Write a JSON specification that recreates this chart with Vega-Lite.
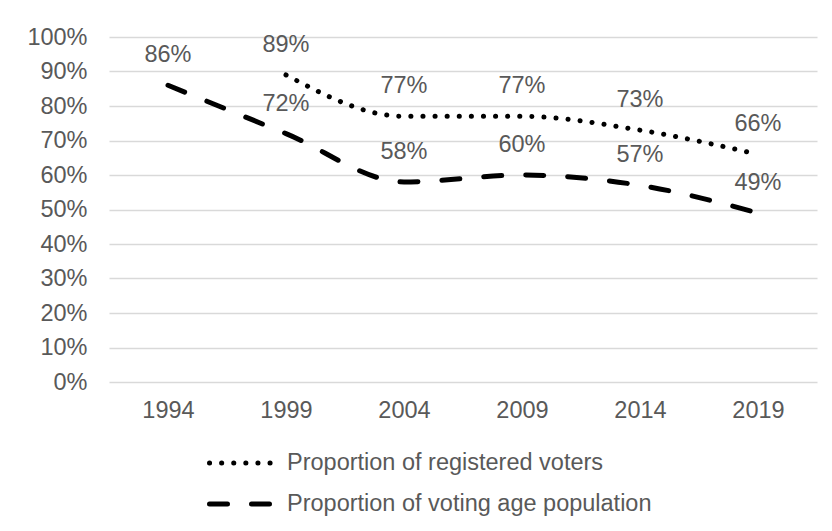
{
  "$schema": "https://vega.github.io/schema/vega-lite/v6.json",
  "width": 708,
  "height": 345,
  "autosize": {"type": "none"},
  "padding": {"left": 109, "top": 37, "right": 15, "bottom": 149},
  "background": "white",
  "config": {
    "font": "Liberation Sans",
    "view": {"stroke": null},
    "axis": {"labelFont": "Liberation Sans", "labelFontSize": 23.5, "labelColor": "#595959", "domain": false, "ticks": false, "title": null, "labelOverlap": false},
    "legend": {"labelFont": "Liberation Sans", "labelFontSize": 23.5, "labelColor": "#595959"}
  },
  "data": {
    "values": [
      {"year": "1994", "series": "Proportion of voting age population", "value": 0.86},
      {"year": "1999", "series": "Proportion of voting age population", "value": 0.72},
      {"year": "2004", "series": "Proportion of voting age population", "value": 0.58},
      {"year": "2009", "series": "Proportion of voting age population", "value": 0.60},
      {"year": "2014", "series": "Proportion of voting age population", "value": 0.57},
      {"year": "2019", "series": "Proportion of voting age population", "value": 0.49},
      {"year": "1999", "series": "Proportion of registered voters", "value": 0.89},
      {"year": "2004", "series": "Proportion of registered voters", "value": 0.77},
      {"year": "2009", "series": "Proportion of registered voters", "value": 0.77},
      {"year": "2014", "series": "Proportion of registered voters", "value": 0.73},
      {"year": "2019", "series": "Proportion of registered voters", "value": 0.66}
    ]
  },
  "encoding": {
    "x": {"field": "year", "type": "ordinal", "scale": {"type": "point", "padding": 0.5},
      "axis": {"labelAngle": 0, "labelPadding": 16, "grid": false}},
    "y": {"field": "value", "type": "quantitative", "scale": {"domain": [0, 1]},
      "axis": {"format": ".0%", "values": [0,0.1,0.2,0.3,0.4,0.5,0.6,0.7,0.8,0.9,1], "labelPadding": 22, "gridColor": "#d9d9d9", "gridWidth": 1.3}}
  },
  "layer": [
    {
      "mark": {"type": "line", "color": "black", "strokeWidth": 5, "strokeCap": "round", "interpolate": "monotone"},
      "encoding": {
        "strokeDash": {"field": "series", "type": "nominal",
          "scale": {"domain": ["Proportion of registered voters", "Proportion of voting age population"], "range": [[0.1, 12], [18, 24]]},
          "legend": {"title": null, "orient": "none", "legendX": 98, "legendY": 414, "direction": "vertical", "symbolType": "stroke", "symbolSize": 4624, "symbolStrokeWidth": 5, "symbolStrokeColor": "black", "labelOffset": 7, "rowPadding": 17, "clipHeight": 24, "labelLimit": 500,
            "encode": {"symbols": {"update": {"strokeCap": {"value": "round"}}}}}
        }
      }
    },
    {
      "mark": {"type": "text", "fontSize": 23.5, "color": "#595959", "dy": -30, "baseline": "middle", "font": "Liberation Sans"},
      "encoding": {
        "text": {"field": "value", "type": "quantitative", "format": ".0%"}
      }
    }
  ]
}
